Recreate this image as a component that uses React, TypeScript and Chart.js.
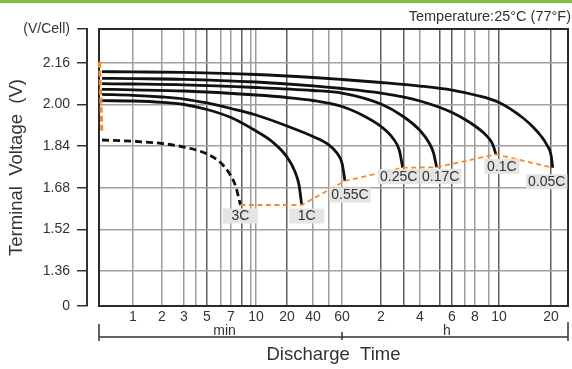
import React, { useEffect, useRef } from 'react';
import { Chart, Scale, registerables } from 'chart.js';

Chart.register(...registerables);

const FONT = '"Liberation Sans", Arial, Helvetica, sans-serif';

// ---------------- data (time in minutes, voltage in V/cell) ----------------
const T_005C = [0.09, 1, 3, 10, 40, 60, 120, 240, 360, 480, 600, 827, 944, 1050, 1137, 1200, 1227];
const V_005C = [2.1265, 2.1258, 2.1238, 2.1158, 2.1042, 2.0965, 2.085, 2.0715, 2.056, 2.0369, 2.0081, 1.9485, 1.9138, 1.8792, 1.8446, 1.8062, 1.7573];

const T_01C = [0.09, 1, 3, 10, 40, 60, 120, 180, 240, 300, 360, 420, 480, 517, 540, 563, 580.6];
const V_01C = [2.1012, 2.1, 2.0973, 2.0869, 2.0723, 2.0619, 2.0446, 2.0292, 2.0138, 1.9888, 1.9696, 1.9427, 1.9177, 1.8908, 1.8696, 1.8446, 1.8088];

const T_017C = [0.09, 1, 3, 10, 40, 60, 120, 180, 240, 266, 279.3, 289];
const V_017C = [2.0804, 2.0792, 2.0762, 2.0658, 2.0542, 2.0446, 2.0023, 1.9523, 1.9004, 1.8523, 1.8138, 1.7588];

const T_025C = [0.09, 1, 3, 10, 20, 40, 60, 87.2, 120, 148.5, 165.6, 176];
const V_025C = [2.0588, 2.0569, 2.0523, 2.0369, 2.0273, 2.0158, 1.9927, 1.9581, 1.9158, 1.8696, 1.8254, 1.7573];

const T_055C = [0.09, 1, 2, 3, 5, 7, 10, 20, 40, 50, 55.9, 60, 63.3];
const V_055C = [2.0396, 2.0358, 2.0292, 2.0215, 2.0062, 1.985, 1.96, 1.9177, 1.8773, 1.8446, 1.8138, 1.7754, 1.7062];

const T_1C = [0.09, 1, 2, 3, 5, 7, 10, 14.3, 20, 24.75, 27.55, 29.6];
const V_1C = [2.015, 2.0138, 2.0088, 2.0004, 1.9812, 1.9504, 1.8985, 1.8581, 1.7985, 1.7419, 1.6908, 1.6138];

const T_3C = [0.09, 1, 2, 3, 4, 5, 6, 7, 7.43, 7.85];
const V_3C = [1.8638, 1.8588, 1.8504, 1.8369, 1.8254, 1.81, 1.7754, 1.7254, 1.6831, 1.6138];

// orange guide lines: initial voltages and final voltages
const T_START = [0.015, 0.085];
const V_START = [2.165, 1.893];
const T_END = [7.85, 29.6, 63.3, 176, 289, 580.6, 1227];
const V_END = [1.6138, 1.6138, 1.7062, 1.7573, 1.7588, 1.8088, 1.7573];

const RATE_LABELS = ['0.05C', '0.1C', '0.17C', '0.25C', '0.55C', '1C', '3C'];

// ---------------- axes ----------------
const X_GRID_MINUTES = [1, 2, 3, 4, 5, 6, 7, 8, 9, 10, 20, 40, 50, 60, 120, 180, 240, 300, 360, 420, 480, 540, 600, 1200];
const X_LABEL_MINUTES = [1, 2, 3, 5, 7, 10, 20, 40, 60, 120, 240, 360, 480, 600, 1200];
const X_LABEL_TEXT = ['1', '2', '3', '5', '7', '10', '20', '40', '60', '2', '4', '6', '8', '10', '20'];
const X_DARK_GRID = [5, 8, 20, 120, 180, 300, 360, 600, 1200];

// calibration of the hand-drawn time axis (fraction of axis length for each stop)
const AXIS_STOP_MINUTES = [0, ...X_GRID_MINUTES, 1500];
const AXIS_STOP_FRACTION = [0, 0.0725, 0.1343, 0.1812, 0.2068, 0.2303, 0.2601, 0.2814, 0.3049, 0.3241, 0.3348,
  0.4009, 0.4563, 0.4904, 0.5181, 0.6013, 0.6503, 0.6844, 0.7271, 0.7527, 0.7804, 0.8017, 0.8316, 0.8529, 0.9638, 1];

const Y_TICK_VOLTS = [1.36, 1.52, 1.68, 1.84, 2.0, 2.16];
const Y_AXIS_BOTTOM = 1.2254; // axis break, labelled "0"
const Y_AXIS_TOP = 2.2908;
const Y_BREAK_LABEL = '0';
const Y_UNIT_LABEL = '(V/Cell)';

class DischargeTimeScale extends Scale {
  static id = 'dischargeTime';
  static defaults = {};
  determineDataLimits() {
    this.min = AXIS_STOP_MINUTES[0];
    this.max = AXIS_STOP_MINUTES[AXIS_STOP_MINUTES.length - 1];
  }
  buildTicks() {
    return X_GRID_MINUTES.map((value) => ({ value }));
  }
  getLabelForValue(value: number) {
    return String(value);
  }
  toDecimal(v: number) {
    const M = AXIS_STOP_MINUTES, F = AXIS_STOP_FRACTION;
    if (v <= M[0]) return F[0];
    for (let i = 1; i < M.length; i++) {
      if (v <= M[i]) {
        const a = M[i - 1], b = M[i];
        const t = a <= 0 ? (v - a) / (b - a) : Math.log(v / a) / Math.log(b / a);
        return F[i - 1] + t * (F[i] - F[i - 1]);
      }
    }
    return F[F.length - 1];
  }
  getPixelForValue(value: number) {
    return this.getPixelForDecimal(this.toDecimal(value));
  }
  getValueForPixel(pixel: number) {
    const d = this.getDecimalForPixel(pixel);
    const M = AXIS_STOP_MINUTES, F = AXIS_STOP_FRACTION;
    for (let i = 1; i < F.length; i++) {
      if (d <= F[i]) {
        const t = (d - F[i - 1]) / (F[i] - F[i - 1]);
        const a = M[i - 1], b = M[i];
        return a <= 0 ? a + t * (b - a) : a * Math.pow(b / a, t);
      }
    }
    return M[M.length - 1];
  }
}
Chart.register(DischargeTimeScale);

const LABEL_OFFSETS: Record<string, [number, number]> = {
  '0.05C': [-6, 14], '0.1C': [6, 12], '0.17C': [4, 9], '0.25C': [-4, 9], '0.55C': [5, 14], '1C': [5, 11], '3C': [0, 11],
};

const pts = (t: number[], v: number[]) => t.map((x, i) => ({ x, y: v[i] }));

const decorPlugin = {
  id: 'decor',
  beforeDraw(chart: any) {
    const { ctx, width } = chart;
    ctx.save();
    ctx.fillStyle = '#ffffff';
    ctx.fillRect(0, 0, width, chart.height);
    ctx.fillStyle = '#7ec242';
    ctx.fillRect(0, 0, width, 3);
    ctx.restore();
  },
  beforeDatasetsDraw(chart: any) {
    const { ctx, chartArea: a } = chart;
    ctx.save();
    ctx.strokeStyle = '#2a2a2a';
    ctx.lineWidth = 2;
    ctx.strokeRect(a.left, a.top, a.right - a.left, a.bottom - a.top);
    ctx.restore();
  },
  afterDatasetsDraw(chart: any) {
    const { ctx, chartArea: a } = chart;
    const xs = chart.scales.x;
    ctx.save();
    // rate labels at curve ends
    ctx.font = `14px ${FONT}`;
    ctx.textAlign = 'center';
    ctx.textBaseline = 'middle';
    chart.data.datasets.forEach((ds: any, i: number) => {
      if (!ds.rateLabel) return;
      const meta = chart.getDatasetMeta(i);
      const last = meta.data[meta.data.length - 1];
      const off = LABEL_OFFSETS[ds.rateLabel] || [0, 12];
      const cx = last.x + off[0];
      const cy = last.y + off[1];
      const tw = ctx.measureText(ds.rateLabel).width;
      const bw = Math.max(35, tw + 4);
      const bh = 15;
      ctx.fillStyle = '#e4e4e4';
      ctx.fillRect(cx - bw / 2, cy - bh / 2, bw, bh);
      ctx.fillStyle = '#333333';
      ctx.fillText(ds.rateLabel, cx, cy + 0.5);
    });
    // bracket below the time axis
    const l = xs.left, r = xs.right, m = xs.getPixelForValue(60);
    const yb = a.bottom + 31;
    ctx.strokeStyle = '#333333';
    ctx.lineWidth = 1.5;
    ctx.beginPath();
    ctx.moveTo(l, yb); ctx.lineTo(r, yb);
    ctx.moveTo(l, a.bottom + 18); ctx.lineTo(l, a.bottom + 35);
    ctx.moveTo(r, a.bottom + 16); ctx.lineTo(r, a.bottom + 35);
    ctx.moveTo(m, a.bottom + 26); ctx.lineTo(m, a.bottom + 34);
    ctx.stroke();
    ctx.fillStyle = '#333333';
    ctx.font = `14px ${FONT}`;
    ctx.textBaseline = 'alphabetic';
    ctx.fillText('min', (l + m) / 2 + 4, a.bottom + 29);
    ctx.fillText('h', (m + r) / 2 - 8, a.bottom + 29);
    // temperature note
    ctx.textAlign = 'right';
    ctx.font = `14.5px ${FONT}`;
    ctx.fillText('Temperature:25°C (77°F)', chart.width - 1, 21);
    ctx.restore();
  },
};

export default function App() {
  const ref = useRef<HTMLCanvasElement | null>(null);
  useEffect(() => {
    document.body.style.margin = '0';
    const canvas = ref.current;
    if (!canvas) return;
    const curve = (label: string, t: number[], v: number[], dashed = false) => ({
      label,
      rateLabel: label,
      data: pts(t, v),
      borderColor: '#111111',
      borderWidth: 2.8,
      borderDash: dashed ? [7, 4] : [],
      pointRadius: 0,
      cubicInterpolationMode: 'monotone',
      fill: false,
      xAxisID: 'x',
      yAxisID: 'y',
    });
    const chart = new Chart(canvas, {
      type: 'line',
      data: {
        datasets: [
          {
            label: 'end', data: pts(T_END, V_END), borderColor: '#f28a2e', borderWidth: 1.8, borderDash: [5, 3.5],
            pointRadius: 0, tension: 0, fill: false, xAxisID: 'x', yAxisID: 'y',
          },
          {
            label: 'start', data: pts(T_START, V_START), borderColor: '#f28a2e', borderWidth: 3, borderDash: [6, 3],
            pointRadius: 0, fill: false, xAxisID: 'x', yAxisID: 'y',
          },
          curve(RATE_LABELS[0], T_005C, V_005C),
          curve(RATE_LABELS[1], T_01C, V_01C),
          curve(RATE_LABELS[2], T_017C, V_017C),
          curve(RATE_LABELS[3], T_025C, V_025C),
          curve(RATE_LABELS[4], T_055C, V_055C),
          curve(RATE_LABELS[5], T_1C, V_1C),
          curve(RATE_LABELS[6], T_3C, V_3C, true),
        ] as any,
      },
      options: {
        responsive: false,
        maintainAspectRatio: false,
        devicePixelRatio: 1,
        animation: false,
        events: [],
        layout: { padding: { top: 29, right: 4, bottom: 0, left: 0 } },
        plugins: { legend: { display: false }, tooltip: { enabled: false }, title: { display: false } },
        scales: {
          x: {
            type: 'dischargeTime' as any,
            position: 'bottom',
            afterFit: (s: any) => { s.height = 63; },
            ticks: {
              autoSkip: false, maxRotation: 0, minRotation: 0, padding: 3, color: '#333333',
              font: { size: 14, family: FONT },
              callback: (v: any) => {
                const i = X_LABEL_MINUTES.indexOf(Number(v));
                return i >= 0 ? X_LABEL_TEXT[i] : '';
              },
            },
            grid: {
              color: (c: any) => (c.tick && X_DARK_GRID.includes(c.tick.value) ? '#5e5e5e' : '#9c9c9c'),
              lineWidth: 1.5,
              drawTicks: false,
            },
            border: { display: false },
            title: {
              display: true, text: 'Discharge  Time', color: '#333333',
              font: { size: 18.5, family: FONT }, padding: { top: 0, bottom: 3 },
            },
          } as any,
          y: {
            type: 'linear',
            position: 'left',
            weight: 10,
            min: Y_AXIS_BOTTOM,
            max: Y_AXIS_TOP,
            afterBuildTicks: (s: any) => {
              s.ticks = [Y_AXIS_BOTTOM, ...Y_TICK_VOLTS, Y_AXIS_TOP].map((value) => ({ value }));
            },
            afterFit: (s: any) => { s.width = 87; },
            ticks: {
              padding: 7, color: '#333333', font: { size: 14, family: FONT },
              callback: (v: any) => (v === Y_AXIS_BOTTOM ? Y_BREAK_LABEL : v === Y_AXIS_TOP ? Y_UNIT_LABEL : Number(v).toFixed(2)),
            },
            grid: {
              color: '#a0a0a0', lineWidth: 1.5, tickLength: 10, tickColor: '#333333', tickWidth: 1.5,
            },
            border: { display: true, color: '#333333', width: 2 },
            title: {
              display: true, text: 'Terminal  Voltage  (V)', color: '#333333',
              font: { size: 18.5, family: FONT }, padding: { top: 6, bottom: 0 },
            },
          } as any,
          yGap: {
            type: 'linear', position: 'left', weight: 0, min: 0, max: 1, display: true,
            grid: { display: false, drawTicks: false }, ticks: { display: false }, border: { display: false },
            afterFit: (s: any) => { s.width = 12; },
          } as any,
        },
      },
      plugins: [decorPlugin],
    });
    return () => chart.destroy();
  }, []);
  return <canvas ref={ref} width={572} height={369} style={{ display: 'block', width: 572, height: 369 }} />;
}
